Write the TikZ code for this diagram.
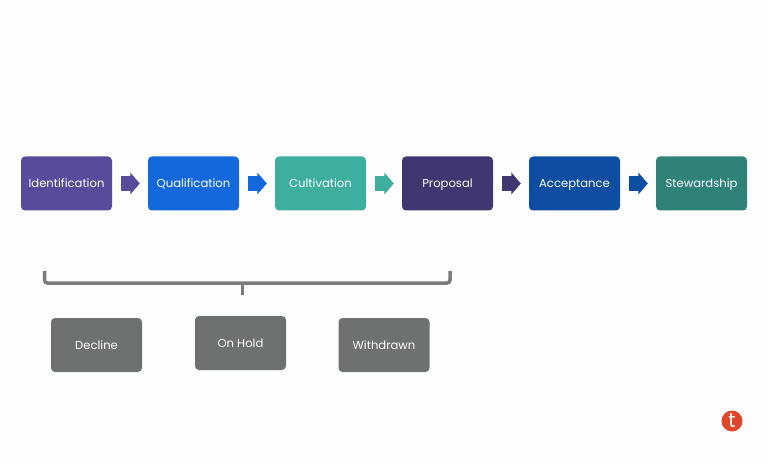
\documentclass[tikz,border=0pt]{standalone}
\usepackage{fontspec}
\setmainfont{Poppins}
\usetikzlibrary{arrows.meta}
\definecolor{idpurple}{HTML}{574C9C}
\definecolor{qualblue}{HTML}{1368DC}
\definecolor{cultteal}{HTML}{3EAE9F}
\definecolor{propindigo}{HTML}{3F3770}
\definecolor{acptblue}{HTML}{0E4EA2}
\definecolor{stewgreen}{HTML}{2E8277}
\definecolor{holdgray}{HTML}{6E7172}
\definecolor{bracegray}{HTML}{7A7C7B}
\definecolor{logored}{HTML}{E0472A}
\definecolor{pagewhite}{HTML}{FEFEFE}
\tikzset{
  stagebox/.style={minimum width=91pt,minimum height=54pt,inner sep=0pt,rounded corners=4pt,text=white,text height=9pt,text depth=0pt,font=\fontsize{11.6}{14}\selectfont},
  flowarrow/.style={-{Triangle[width=21.5pt,length=9.5pt]},line width=14.5pt,shorten <=9pt,shorten >=8pt}
}
\begin{document}
\begin{tikzpicture}[x=1pt,y=-1pt]
\fill[pagewhite] (0,0) rectangle (768,465);
\node[stagebox,fill=idpurple] (identification) at (66.5,183.5) {Identification};
\node[stagebox,fill=qualblue] (qualification) at (193.5,183.5) {Qualification};
\node[stagebox,fill=cultteal] (cultivation) at (320.5,183.5) {Cultivation};
\node[stagebox,fill=propindigo] (proposal) at (447.5,183.5) {Proposal};
\node[stagebox,fill=acptblue] (acceptance) at (574.5,183.5) {Acceptance};
\node[stagebox,fill=stewgreen] (stewardship) at (701.5,183.5) {Stewardship};
\draw[flowarrow,idpurple] (identification.east) -- (qualification.west);
\draw[flowarrow,qualblue] (qualification.east) -- (cultivation.west);
\draw[flowarrow,cultteal] (cultivation.east) -- (proposal.west);
\draw[flowarrow,propindigo] (proposal.east) -- (acceptance.west);
\draw[flowarrow,acptblue] (acceptance.east) -- (stewardship.west);
% bracket
\coordinate (braceleft) at (44.5,271);
\coordinate (braceright) at (450,271);
\coordinate (bracemid) at (242.5,283);
\coordinate (bracetip) at (242.5,295);
\draw[bracegray,line width=3.5pt,rounded corners=3pt] (braceleft) -- (44.5,283) -- (450,283) -- (braceright);
\draw[bracegray,line width=3.5pt] (bracemid) -- (bracetip);
\node[stagebox,fill=holdgray] (decline) at (96.5,345) {Decline};
\node[stagebox,fill=holdgray] (onhold) at (240.5,343) {On Hold};
\node[stagebox,fill=holdgray] (withdrawn) at (384,345) {Withdrawn};
\node[circle,fill=logored,minimum size=21pt,inner sep=0pt,text=white,font=\fontsize{20}{20}\selectfont] (logo) at (732,421) {t};
\end{tikzpicture}
\end{document}
